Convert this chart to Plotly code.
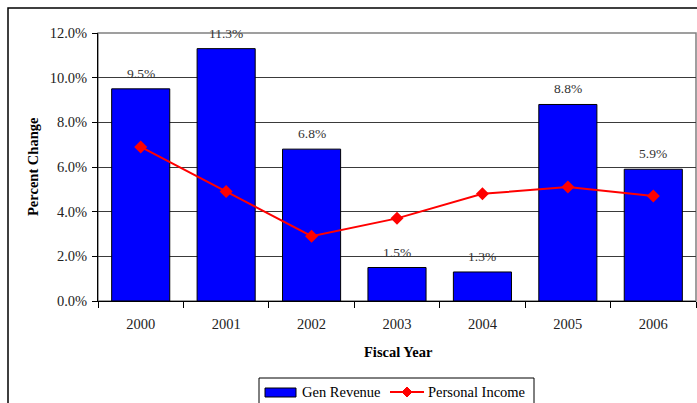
import plotly.graph_objects as go

# Fiscal years and annual percent changes
years = ["2000", "2001", "2002", "2003", "2004", "2005", "2006"]
gen_revenue = [9.5, 11.3, 6.8, 1.5, 1.3, 8.8, 5.9]
personal_income = [6.9, 4.9, 2.9, 3.7, 4.8, 5.1, 4.7]

y_ticks = [0, 2, 4, 6, 8, 10, 12]

SERIF = "Liberation Serif, Times New Roman, serif"
W, H = 697, 403
ML, MR, MT, MB = 98, 1, 33, 102
PW, PH = W - ML - MR, H - MT - MB


def px_x(p):
    return (p - ML) / PW


def px_y(p):
    return (H - MB - p) / PH


fig = go.Figure()

fig.add_trace(go.Bar(
    x=years, y=gen_revenue, name="Gen Revenue",
    marker=dict(color="#0000FF", line=dict(color="#000000", width=1)),
    width=0.68, showlegend=False,
))

fig.add_trace(go.Scatter(
    x=years, y=personal_income, name="Personal Income",
    mode="lines+markers",
    line=dict(color="#FF0000", width=2),
    marker=dict(symbol="diamond", size=10, color="#FF0000"),
    showlegend=False,
))

annotations = []
# value labels above each revenue bar (category index positions)
for i, v in enumerate(gen_revenue):
    annotations.append(dict(
        x=i, y=v, xref="x", yref="y", text=f"{v:.1f}%",
        showarrow=False, yanchor="bottom", yshift=6,
        font=dict(family=SERIF, size=13.5, color="#333333"),
    ))

# axis titles
annotations.append(dict(
    x=px_x(33), y=0.5, xref="paper", yref="paper", text="<b>Percent Change</b>",
    textangle=-90, showarrow=False, xanchor="center", yanchor="middle",
    font=dict(family=SERIF, size=14.5, color="#000000"),
))
annotations.append(dict(
    x=px_x(398), y=px_y(352), xref="paper", yref="paper", text="<b>Fiscal Year</b>",
    showarrow=False, xanchor="center", yanchor="middle",
    font=dict(family=SERIF, size=14.5, color="#000000"),
))

# legend entries
annotations.append(dict(
    x=px_x(300), y=px_y(392), xref="paper", yref="paper", text="Gen Revenue",
    showarrow=False, xanchor="left", yanchor="middle",
    font=dict(family=SERIF, size=14.5, color="#000000"),
))
annotations.append(dict(
    x=px_x(426), y=px_y(392), xref="paper", yref="paper", text="Personal Income",
    showarrow=False, xanchor="left", yanchor="middle",
    font=dict(family=SERIF, size=14.5, color="#000000"),
))

shapes = [
    # outer chart border
    dict(type="rect", xref="paper", yref="paper",
         x0=px_x(8), x1=px_x(710), y0=px_y(8), y1=px_y(420),
         line=dict(color="#000000", width=1.5), layer="below"),
    # plot area frame
    dict(type="rect", xref="paper", yref="paper",
         x0=0, x1=1, y0=0, y1=1,
         line=dict(color="#808080", width=1.5), layer="below"),
    # legend box
    dict(type="rect", xref="paper", yref="paper",
         x0=px_x(259), x1=px_x(534), y0=px_y(378), y1=px_y(420),
         line=dict(color="#000000", width=1)),
    # legend swatch: bars
    dict(type="rect", xref="paper", yref="paper",
         x0=px_x(265), x1=px_x(296), y0=px_y(388), y1=px_y(397),
         fillcolor="#0000FF", line=dict(color="#000000", width=1)),
    # legend swatch: line
    dict(type="line", xref="paper", yref="paper",
         x0=px_x(390), x1=px_x(424), y0=px_y(392), y1=px_y(392),
         line=dict(color="#FF0000", width=2)),
    # legend swatch: diamond marker
    dict(type="path", xref="paper", yref="paper",
         path=(f"M {px_x(407)},{px_y(387)} L {px_x(412)},{px_y(392)} "
               f"L {px_x(407)},{px_y(397)} L {px_x(402)},{px_y(392)} Z"),
         fillcolor="#FF0000", line=dict(color="#FF0000", width=1)),
]

fig.update_layout(
    width=W, height=H,
    margin=dict(l=ML, r=MR, t=MT, b=MB, pad=0),
    paper_bgcolor="#FFFFFF", plot_bgcolor="#FFFFFF",
    showlegend=False,
    font=dict(family=SERIF, size=14.5, color="#222222"),
    annotations=annotations,
    shapes=shapes,
    xaxis=dict(
        type="category",
        categoryorder="array", categoryarray=years,
        range=[-0.5, len(years) - 0.5], autorange=False,
        showgrid=False,
        showline=True, linecolor="#000000", linewidth=1,
        ticks="outside", tickson="boundaries", ticklen=6,
        tickcolor="#000000", tickwidth=1,
        tickangle=0, ticklabelstandoff=10,
        tickfont=dict(family=SERIF, size=14.5, color="#222222"),
        fixedrange=True,
    ),
    yaxis=dict(
        range=[0, 12], autorange=False,
        tickvals=y_ticks,
        ticktext=[f"{v:.1f}%" for v in y_ticks],
        showgrid=True, gridcolor="#3a3a3a", gridwidth=1,
        showline=True, linecolor="#000000", linewidth=1,
        ticks="outside", ticklen=5, tickcolor="#000000",
        ticklabelstandoff=2,
        tickfont=dict(family=SERIF, size=14.5, color="#222222"),
        zeroline=False,
        fixedrange=True,
    ),
)

fig.write_html("out.html")
